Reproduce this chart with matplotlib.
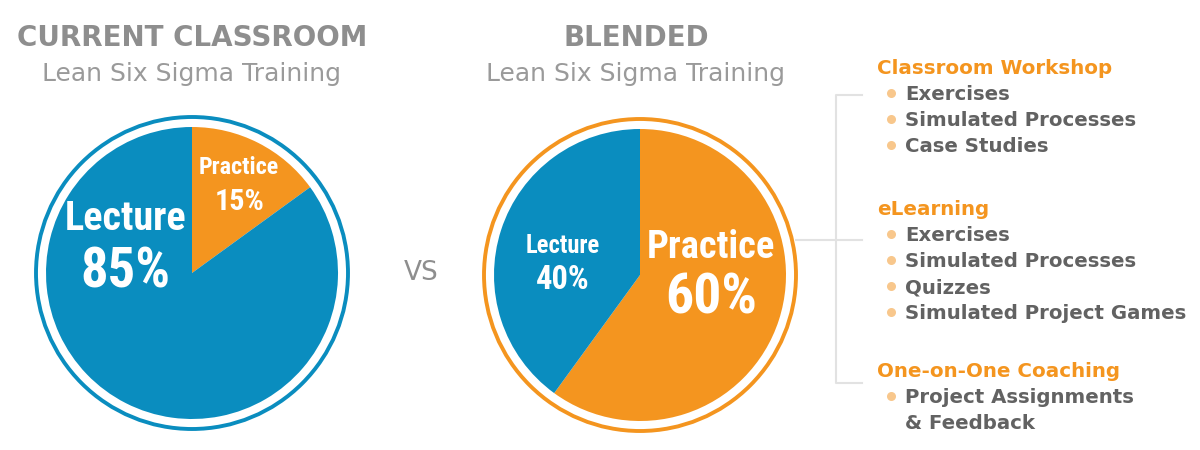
import matplotlib
matplotlib.use("Agg")
import matplotlib.pyplot as plt
from matplotlib import font_manager as fm
from matplotlib.patches import Circle

# data
pie_labels = ["Practice", "Lecture"]
current_vals = [15, 85]
blended_vals = [60, 40]
titles = ["CURRENT CLASSROOM", "BLENDED"]
subtitle = "Lean Six Sigma Training"
groups = ["Classroom Workshop", "eLearning", "One-on-One Coaching"]
group_items = [
    ["Exercises", "Simulated Processes", "Case Studies"],
    ["Exercises", "Simulated Processes", "Quizzes", "Simulated Project Games"],
    ["Project Assignments\n& Feedback"],
]

BLUE = "#0A8DBF"
ORANGE = "#F4951F"
GRAY = "#8E8E8E"
DARK = "#626262"
BULLET = "#F8C78C"
LINE = "#E2E2E2"

names = {f.name for f in fm.fontManager.ttflist}
cond = "DejaVu Sans"
for c in ["Roboto Condensed", "Liberation Sans Narrow", "Open Sans Condensed", "Roboto", "Inter"]:
    if c in names:
        cond = c
        break
body = "DejaVu Sans"

H = 450
def Y(y):
    return H - y

fig = plt.figure(figsize=(12, 4.5), dpi=100)
ax = fig.add_axes([0, 0, 1, 1])

pies = [(current_vals, (192, 273)), (blended_vals, (640, 275))]
ring_cols = [BLUE, ORANGE]
for (vals, (cx, cy)), rc in zip(pies, ring_cols):
    ax.pie(vals, colors=[ORANGE, BLUE], startangle=90, counterclock=False,
           center=(cx, Y(cy)), radius=146, frame=True,
           wedgeprops=dict(linewidth=0))
    ax.add_patch(Circle((cx, Y(cy)), 156, fill=False, edgecolor=rc, linewidth=2.8))

ax.set_xlim(0, 1200)
ax.set_ylim(0, H)
ax.set_aspect("equal")
ax.set_axis_off()

# titles
for t, x in zip(titles, [192, 636]):
    ax.text(x, Y(38), t, ha="center", va="center", fontsize=20, fontweight="bold",
            color=GRAY, family=body)
    ax.text(x, Y(74), subtitle, ha="center", va="center", fontsize=18,
            color="#9A9A9A", family=body)
ax.text(421, Y(273), "VS", ha="center", va="center", fontsize=19, color=GRAY,
        family=body)

# pie labels, sized to the width they take in the picture
renderer = fig.canvas.get_renderer()
def fit(x, y, s, width, maxsize):
    t = ax.text(x, Y(y), s, ha="center", va="center", fontsize=maxsize, color="white",
                fontweight="bold", family=cond)
    w = t.get_window_extent(renderer).width
    if w > width:
        t.set_fontsize(maxsize * width / w)

fit(126, 219, pie_labels[1], 122, 32)
fit(125, 272, f"{current_vals[1]}%", 90, 47)
fit(239, 168, pie_labels[0], 80, 20)
fit(240, 202, f"{current_vals[0]}%", 50, 28)
fit(563, 246, pie_labels[1], 74, 20)
fit(563, 280, f"{blended_vals[1]}%", 54, 28)
fit(711, 247, pie_labels[0], 128, 35)
fit(711, 299, f"{blended_vals[0]}%", 92, 50)

# connector lines
ax.plot([796, 862], [Y(240), Y(240)], color=LINE, lw=1.5)
ax.plot([862, 836, 836, 862], [Y(95), Y(95), Y(383), Y(383)], color=LINE, lw=1.5)

# list
heads_y = [67, 208, 370]
for g, items, hy in zip(groups, group_items, heads_y):
    ax.text(877, Y(hy + 7), g, ha="left", va="baseline", fontsize=14.3, color=ORANGE,
            fontweight="bold", family=body)
    row = 1
    for it in items:
        for j, line in enumerate(it.split("\n")):
            yy = hy + 26 * row
            if j == 0:
                ax.plot(891, Y(yy), "o", ms=6.5, color=BULLET, mec="none")
            ax.text(905, Y(yy + 7), line, ha="left", va="baseline", fontsize=14.2,
                    color=DARK, fontweight="bold", family=body)
            row += 1

fig.savefig("out.png", dpi=100, facecolor="white")
